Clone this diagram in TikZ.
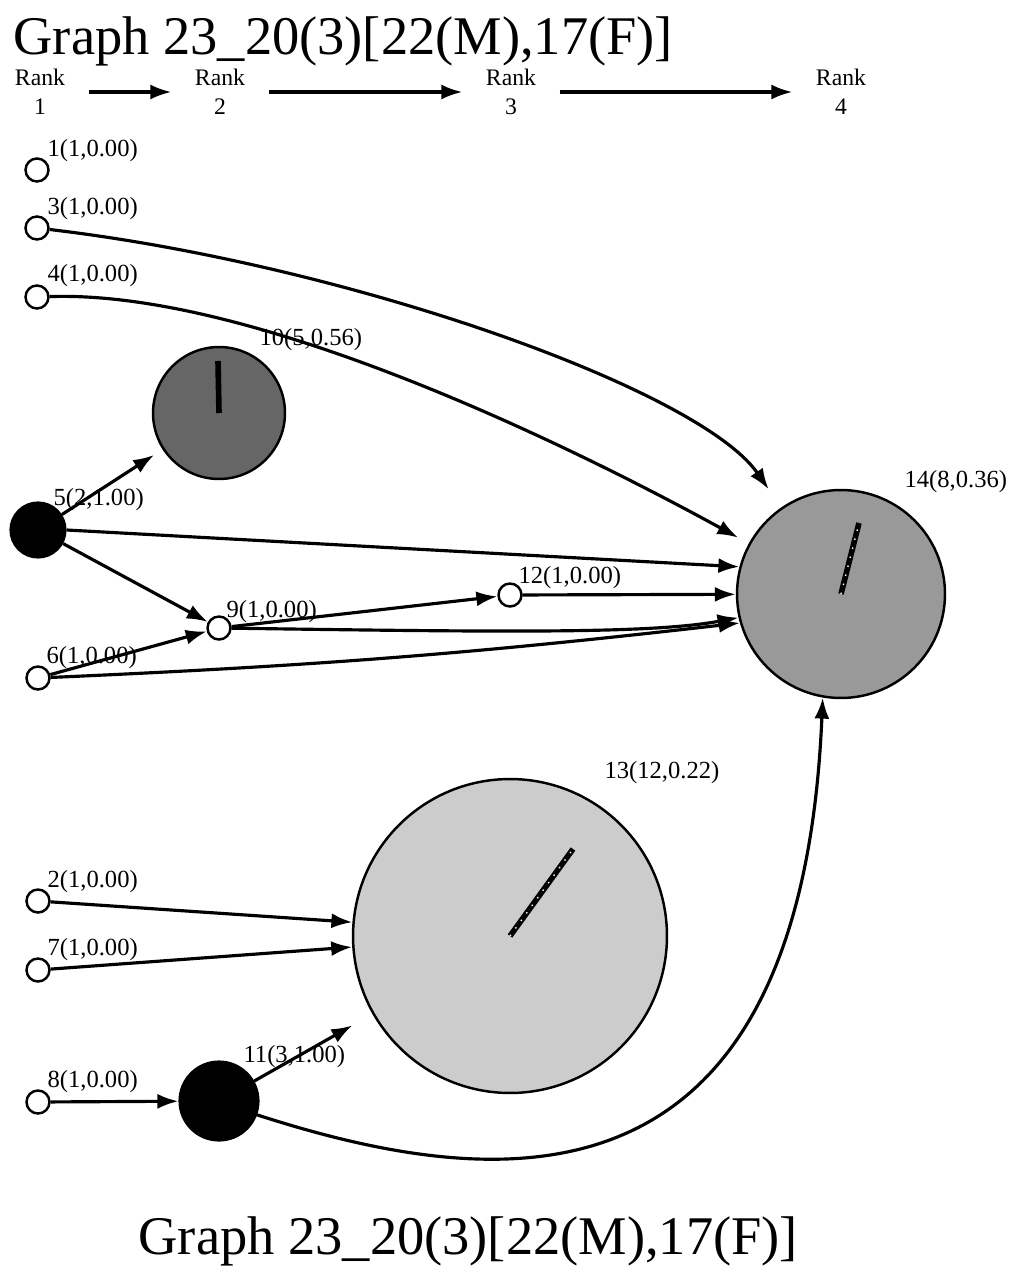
\documentclass[tikz,border=0pt]{standalone}
\usepackage{fontspec}
\setmainfont{Liberation Serif}
\usetikzlibrary{arrows.meta,positioning,calc}
\tikzset{
leaf/.style = {draw, circle, fill=white, line width=1.4pt, inner sep=0pt, minimum size=0.46cm},
hub/.style = {draw, circle, fill=black, inner sep=0pt},
group/.style = {draw, circle, line width=1.4pt, inner sep=0pt},
tag/.style = {anchor=base west, inner sep=0pt, font=\fontsize{14}{16}\selectfont},
rank/.style = {align=center, inner ysep=0pt, inner xsep=0.44cm, font=\fontsize{13.5}{16.5}\selectfont},
title/.style = {anchor=base west, inner sep=0pt, font=\fontsize{31}{36}\selectfont},
needle/.style = {line width=3.2pt},
dots/.style = {white, line width=0.8pt, dash pattern=on 0.8pt off 4.5pt}
}
\begin{document}
\begin{tikzpicture}[x=0.02cm, y=-0.02cm, line width=1.8pt, >={Latex[length=0.42cm,width=0.3cm]}]
    \useasboundingbox (0,0) rectangle (1010,1270);
    \node [title] (top) at (12,55) {Graph 23\_20(3)[22(M),17(F)]};
    \node [title] (bottom) at (137,1254) {Graph 23\_20(3)[22(M),17(F)]};
    \node [rank] (r1) at (40,92) {Rank\\1};
    \node [rank] (r2) at (220,92) {Rank\\2};
    \node [rank] (r3) at (511,92) {Rank\\3};
    \node [rank] (r4) at (841,92) {Rank\\4};
    \draw [->] (r1) -- (r2);
    \draw [->] (r2) -- (r3);
    \draw [->] (r3) -- (r4);
    \node [leaf] (n1) at (37,170) {};
    \node [leaf] (n3) at (37,228) {};
    \node [leaf] (n4) at (37,297) {};
    \node [hub, minimum size=1.08cm] (n5) at (38,530) {};
    \node [leaf] (n6) at (38,678) {};
    \node [leaf] (n2) at (38,901) {};
    \node [leaf] (n7) at (38,970) {};
    \node [leaf] (n8) at (38,1102) {};
    \node [group, fill=black!60, minimum size=2.64cm] (n10) at (219,413) {};
    \node [leaf] (n9) at (219,628) {};
    \node [hub, minimum size=1.56cm] (n11) at (219,1101) {};
    \node [leaf] (n12) at (510,595) {};
    \node [group, fill=black!20, minimum size=6.28cm] (n13) at (510,936) {};
    \node [group, fill=black!40, minimum size=4.16cm] (n14) at (841,594) {};
    \draw [needle] (n10.center) -- ++(-1,-52);
    \draw [needle] (n14.center) -- ++(18,-71);
    \draw [dots] (n14.center) -- ++(18,-71);
    \draw [needle] (n13.center) -- ++(63,-87);
    \draw [dots] (n13.center) -- ++(63,-87);
    \node [tag] (t1) at (46,157) {1(1,0.00)};
    \node [tag] (t3) at (46,215) {3(1,0.00)};
    \node [tag] (t4) at (46,282) {4(1,0.00)};
    \node [tag] (t5) at (52,505) {5(2,1.00)};
    \node [tag] (t6) at (45,663) {6(1,0.00)};
    \node [tag] (t2) at (46,887) {2(1,0.00)};
    \node [tag] (t7) at (46,955) {7(1,0.00)};
    \node [tag] (t8) at (46,1087) {8(1,0.00)};
    \node [tag] (t10) at (258,345) {10(5,0.56)};
    \node [tag] (t9) at (225,617) {9(1,0.00)};
    \node [tag] (t11) at (242,1062) {11(3,1.00)};
    \node [tag] (t12) at (517,583) {12(1,0.00)};
    \node [tag] (t13) at (603,778) {13(12,0.22)};
    \node [tag] (t14) at (903,487) {14(8,0.36)};
    \draw [->, shorten >=0.44cm] (n3) .. controls (350,265) and (700,390) .. (n14);
    \draw [->, shorten >=0.24cm] (n4) .. controls (250,290) and (560,440) .. (n14);
    \draw [->, shorten >=0.2cm] (n5) -- (n10);
    \draw [->] (n5.east) -- (n14.165);
    \draw [->] (n5) -- (n9);
    \draw [->] (n6) -- (n9);
    \draw [->] (n6) to [bend right=2] (n14.196);
    \draw [->] (n9) .. controls (500,632) and (650,634) .. (n14.193);
    \draw [->] (n9) -- (n12);
    \draw [->] (n12) -- (n14);
    \draw [->] (n2) -- (n13.175);
    \draw [->] (n7) -- (n13.184);
    \draw [->] (n8) -- (n11);
    \draw [->, shorten >=0.46cm] (n11) -- (n13);
    \draw [->] (n11.-20) .. controls (490,1190) and (800,1230) .. (n14.260);
\end{tikzpicture}
\end{document}
